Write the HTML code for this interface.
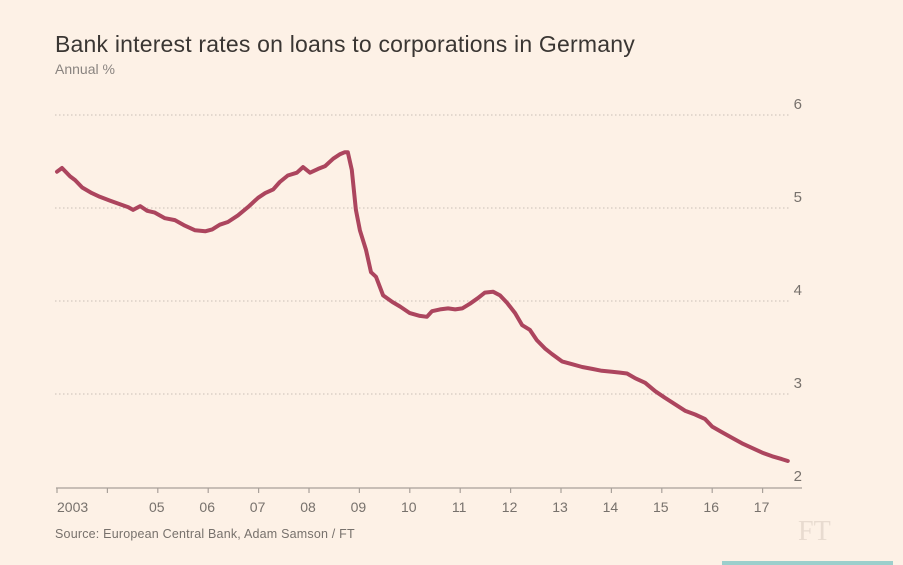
<!DOCTYPE html>
<html><head><meta charset="utf-8">
<style>
html,body{margin:0;padding:0;background:#fdf1e6;}
body{width:903px;height:565px;overflow:hidden;position:relative;font-family:"Liberation Sans",sans-serif;}
.title{position:absolute;left:55px;top:31px;font-size:23px;color:#3a3633;letter-spacing:0.2px;}
.sub{position:absolute;left:55px;top:61px;font-size:14px;color:#8a8480;}
.src{position:absolute;left:55px;top:527px;font-size:12.5px;color:#77716c;letter-spacing:0.2px;}
.ft{position:absolute;left:798px;top:516px;font-family:"Liberation Serif",serif;font-size:28px;color:#e8dbd0;}
</style></head>
<body>
<div class="title">Bank interest rates on loans to corporations in Germany</div>
<div class="sub">Annual %</div>
<svg id="chart" width="903" height="565" style="position:absolute;left:0;top:0"></svg>
<div class="src">Source: European Central Bank, Adam Samson / FT</div>
<div class="ft">FT</div>
<div style="position:absolute;left:722px;top:561px;width:171px;height:4px;background:#9ccfcc"></div>
<script>
const yTicks=[2,3,4,5,6];
const xTickYears=[2003,2004,2005,2006,2007,2008,2009,2010,2011,2012,2013,2014,2015,2016,2017];
const xTickLabels=["2003","","05","06","07","08","09","10","11","12","13","14","15","16","17"];
const dates=[2003.00,2003.10,2003.26,2003.36,2003.50,2003.69,2003.85,2004.05,2004.25,2004.41,2004.51,2004.65,2004.79,2004.94,2005.14,2005.34,2005.54,2005.74,2005.94,2006.08,2006.23,2006.39,2006.59,2006.79,2006.99,2007.13,2007.29,2007.42,2007.58,2007.76,2007.88,2008.02,2008.18,2008.32,2008.48,2008.62,2008.71,2008.77,2008.85,2008.93,2009.01,2009.13,2009.23,2009.33,2009.47,2009.65,2009.81,2010.00,2010.20,2010.34,2010.44,2010.60,2010.76,2010.90,2011.04,2011.19,2011.35,2011.49,2011.65,2011.79,2011.93,2012.09,2012.23,2012.38,2012.52,2012.68,2012.82,2013.02,2013.22,2013.42,2013.62,2013.81,2014.01,2014.17,2014.31,2014.47,2014.67,2014.87,2015.06,2015.26,2015.46,2015.66,2015.86,2016.00,2016.19,2016.39,2016.59,2016.79,2016.99,2017.19,2017.38,2017.50];
const rates=[5.39,5.43,5.34,5.30,5.22,5.16,5.12,5.08,5.04,5.01,4.98,5.02,4.97,4.95,4.89,4.87,4.81,4.76,4.75,4.77,4.82,4.85,4.92,5.01,5.11,5.16,5.20,5.28,5.35,5.38,5.44,5.38,5.42,5.45,5.53,5.58,5.60,5.60,5.41,4.98,4.76,4.55,4.31,4.26,4.06,3.99,3.94,3.87,3.84,3.83,3.89,3.91,3.92,3.91,3.92,3.97,4.03,4.09,4.10,4.06,3.98,3.87,3.74,3.69,3.58,3.49,3.43,3.35,3.32,3.29,3.27,3.25,3.24,3.23,3.22,3.17,3.12,3.03,2.96,2.89,2.82,2.78,2.73,2.65,2.59,2.53,2.47,2.42,2.37,2.33,2.30,2.28];
const NS="http://www.w3.org/2000/svg";
const svg=document.getElementById('chart');
const X=d=>57+(d-2003)*50.4;
const Y=v=>487-(v-2)*93;
function mk(t,a){const e=document.createElementNS(NS,t);for(const k in a)e.setAttribute(k,a[k]);svg.appendChild(e);return e;}
yTicks.forEach(v=>{
  if(v>2){const g=mk('line',{x1:55,x2:790,y1:Y(v),y2:Y(v),stroke:'#c9bfb6','stroke-width':1,'stroke-dasharray':'1.5,2.5'});
  
  }
  const t=mk('text',{x:802,y:Y(v)-6,'text-anchor':'end','font-size':15,fill:'#77716c','font-family':'Liberation Sans, sans-serif'});
  t.textContent=v;
  
  
});
const ax=mk('line',{x1:56,x2:802,y1:488,y2:488,stroke:'#a9a19a','stroke-width':1.2});


xTickYears.forEach((yr,i)=>{
  const tk=mk('line',{x1:X(yr),x2:X(yr),y1:488,y2:493,stroke:'#a9a19a','stroke-width':1.2});
  
  
  if(xTickLabels[i]){
    const t=mk('text',{x:X(yr)+(i==0?0:-1),y:512,'text-anchor':i==0?'start':'middle','font-size':14,fill:'#77716c','font-family':'Liberation Sans, sans-serif'});
    t.textContent=xTickLabels[i];
    
    
  }
});
const p=mk('polyline',{points:dates.map((d,i)=>X(d).toFixed(1)+','+Y(rates[i]).toFixed(1)).join(' '),fill:'none',stroke:'#ac455e','stroke-width':4,'stroke-linejoin':'round','stroke-linecap':'round'});


</script>
</body></html>
